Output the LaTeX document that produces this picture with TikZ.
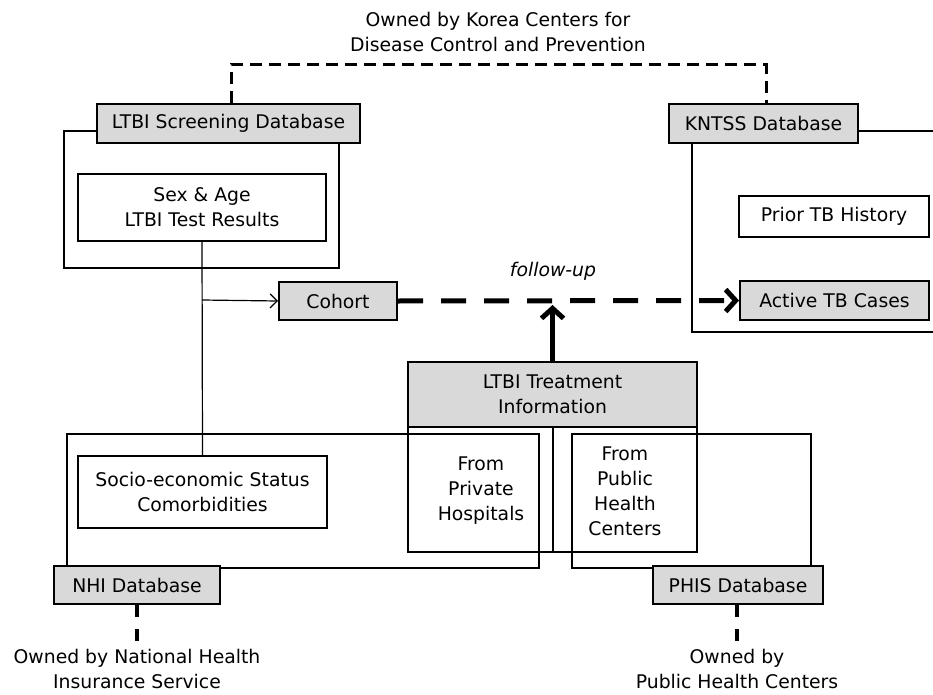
\documentclass[tikz,border=0pt]{standalone}
\usepackage{fontspec}
\setmainfont{DejaVu Sans}
\usetikzlibrary{arrows.meta,calc}
\definecolor{boxgray}{RGB}{217,217,217}
\tikzset{
  box/.style={draw=black,line width=2pt,inner sep=0pt,align=center,font=\fontsize{18.8}{25}\selectfont},
  gbox/.style={box,fill=boxgray},
  wbox/.style={box,fill=white},
  frame/.style={draw=black,line width=1.6pt},
  lbl/.style={align=center,inner sep=0pt,font=\fontsize{18.8}{25}\selectfont},
  ownerdash/.style={line width=3pt,dash pattern=on 12pt off 7pt},
  vdash/.style={line width=3.5pt,dash pattern=on 12pt off 12pt},
  followdash/.style={line width=5pt,dash pattern=on 25pt off 18pt,-{Straight Barb[length=10pt,width=22pt,line width=5pt]}},
  thickarrow/.style={line width=5pt,-{Straight Barb[length=10pt,width=22pt,line width=5pt]}},
  thinarrow/.style={line width=1.2pt,-{Straight Barb[length=7pt,width=14pt,line width=1.2pt]}},
  thinline/.style={line width=1.2pt}
}
\begin{document}
\begin{tikzpicture}[x=1pt,y=-1pt]
\useasboundingbox (0,0) rectangle (933,695);
% frames
\draw[frame] (64,131) rectangle (339,268);
\draw[frame] (933,131) -- (692,131) -- (692,332) -- (933,332);
\draw[frame] (67,434) rectangle (539,568);
\draw[frame] (572,434) rectangle (811,568);
\draw[frame] (408,427) rectangle (697,552);
% nodes
\node[gbox,minimum width=263pt,minimum height=39pt] (scr) at (228.5,123.5) {LTBI Screening Database};
\node[gbox,minimum width=189pt,minimum height=39pt] (kn) at (763.5,123.5) {KNTSS Database};
\node[wbox,minimum width=248pt,minimum height=67pt] (sex) at (202,207.5) {Sex \& Age\\LTBI Test Results};
\node[gbox,minimum width=118pt,minimum height=38pt] (coh) at (338,301) {Cohort};
\node[wbox,minimum width=190pt,minimum height=41pt] (prior) at (834,216.5) {Prior TB History};
\node[gbox,minimum width=189pt,minimum height=39pt] (act) at (834.5,300.5) {Active TB Cases};
\node[gbox,minimum width=289pt,minimum height=65pt] (trt) at (552.5,394.5) {LTBI Treatment\\Information};
\node[wbox,minimum width=249pt,minimum height=72pt] (ses) at (202.5,492) {Socio-economic Status\\Comorbidities};
\node[gbox,minimum width=166pt,minimum height=38pt] (nhi) at (137,585) {NHI Database};
\node[gbox,minimum width=170pt,minimum height=38pt] (phis) at (738,585) {PHIS Database};
\node[lbl] (priv) at (481,491) {From\\Private\\Hospitals};
\node[lbl] (pub) at (625,491) {From\\Public\\Health\\Centers};
\node[lbl] (ownk) at (498,31.5) {Owned by Korea Centers for\\Disease Control and Prevention};
\node[lbl] (ownn) at (137,669) {Owned by National Health\\Insurance Service};
\node[lbl] (ownp) at (737,669) {Owned by\\Public Health Centers};
\node[lbl,font=\fontsize{18.8}{25}\selectfont\itshape] (fu) at (553,271) {follow-up};
% connectors
\coordinate (divtop) at (553,427);
\coordinate (divbot) at (553,552);
\draw[frame] (divtop) -- (divbot);
\coordinate (br) at (202,300);
\draw[thinline] (sex.south) -- (ses.north);
\draw[thinarrow] (br) -- (coh.west);
\draw[followdash] (coh.east) -- (act.west);
\coordinate (fuhit) at (552.5,305);
\draw[thickarrow] (trt.north) -- (fuhit);
\draw[ownerdash] ($(scr.north)+(2.5,0)$) -- ++(0,-38) -| ($(kn.north)+(2.5,0)$);
\draw[vdash] (nhi.south) -- ++(0,36);
\draw[vdash] ($(phis.south)+(-1,0)$) -- ++(0,36);
\end{tikzpicture}
\end{document}
